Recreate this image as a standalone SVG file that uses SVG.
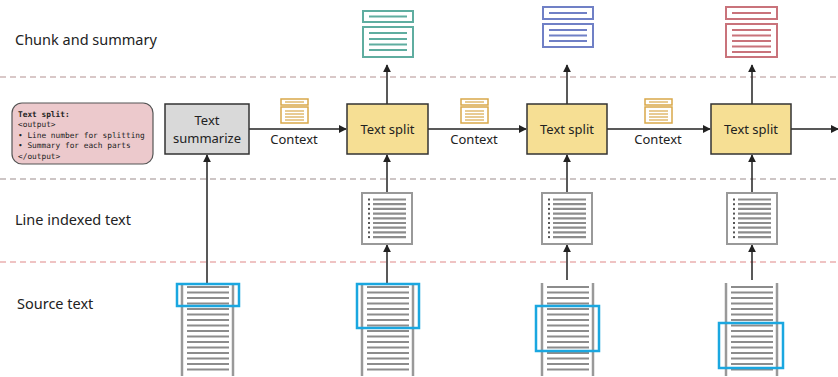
<svg xmlns="http://www.w3.org/2000/svg" width="838" height="377" viewBox="0 0 838 377">
<defs>
<marker id="ah" viewBox="0 0 10 10" refX="9" refY="5" markerWidth="8" markerHeight="8" markerUnits="userSpaceOnUse" orient="auto"><path d="M0,0 L10,5 L0,10 z" fill="#222"/></marker>
<style>
.lbl{font-family:"Noto Sans","Open Sans",sans-serif;font-size:14.5px;fill:#222}
.nt{font-family:"Noto Sans","Open Sans",sans-serif;font-size:13px;fill:#222;text-anchor:middle}
.mono{font-family:"DejaVu Sans Mono","Liberation Mono",monospace;font-size:7.8px;fill:#222}
.dash{stroke-width:1.5;stroke-dasharray:6,4;fill:none}
.conn{stroke:#222;stroke-width:1.5;fill:none;marker-end:url(#ah)}
.split{fill:#f6df94;stroke:#333;stroke-width:1.5}
.gl{stroke:#8c8c8c;stroke-width:2.2}
.rail{stroke:#999;stroke-width:2.5}
.sel{fill:none;stroke:#1aa7e0;stroke-width:2.5}
.ctx{fill:#fff;stroke:#d9a84a;stroke-width:1.5}
.ctxl{stroke:#d9a84a;stroke-width:1.2}
</style>
</defs>
<rect width="838" height="377" fill="#fff"/>
<!-- lanes -->
<g id="lanes">
<line x1="0" y1="77" x2="838" y2="77" class="dash" stroke="#cdb6b6"/>
<line x1="0" y1="179" x2="838" y2="179" class="dash" stroke="#bdb3b3"/>
<line x1="0" y1="262" x2="838" y2="262" class="dash" stroke="#eab0b0"/>
<text x="15" y="45" class="lbl">Chunk and summary</text>
<text x="15" y="225" class="lbl">Line indexed text</text>
<text x="17" y="309" class="lbl">Source text</text>
</g>
<!-- connectors -->
<g id="connectors">
<line x1="207" y1="283" x2="207" y2="155" class="conn"/>
<line x1="249" y1="129" x2="346" y2="129" class="conn"/>
<line x1="428" y1="129" x2="526" y2="129" class="conn"/>
<line x1="607" y1="129" x2="710" y2="129" class="conn"/>
<line x1="791" y1="129" x2="838" y2="129" class="conn"/>
<line x1="387" y1="104" x2="387" y2="65" class="conn"/>
<line x1="567" y1="104" x2="567" y2="65" class="conn"/>
<line x1="752" y1="104" x2="752" y2="65" class="conn"/>
<line x1="387" y1="193" x2="387" y2="155" class="conn"/>
<line x1="567" y1="193" x2="567" y2="155" class="conn"/>
<line x1="752" y1="193" x2="752" y2="155" class="conn"/>
<line x1="387" y1="283" x2="387" y2="245" class="conn"/>
<line x1="567" y1="280" x2="567" y2="245" class="conn"/>
<line x1="752" y1="280" x2="752" y2="245" class="conn"/>
<text x="294" y="144" class="nt">Context</text>
<text x="474" y="144" class="nt">Context</text>
<text x="658" y="144" class="nt">Context</text>
</g>
<!-- context icons -->
<g id="ctx-icons">
<g transform="translate(281,99)"><rect x="0" y="0" width="27" height="6" class="ctx"/><line x1="4" y1="3" x2="23" y2="3" class="ctxl"/><rect x="0" y="8" width="27" height="16" class="ctx"/><line x1="4" y1="12" x2="23" y2="12" class="ctxl"/><line x1="4" y1="15" x2="23" y2="15" class="ctxl"/><line x1="4" y1="18" x2="23" y2="18" class="ctxl"/><line x1="4" y1="21" x2="23" y2="21" class="ctxl"/></g>
<g transform="translate(461,99)"><rect x="0" y="0" width="27" height="6" class="ctx"/><line x1="4" y1="3" x2="23" y2="3" class="ctxl"/><rect x="0" y="8" width="27" height="16" class="ctx"/><line x1="4" y1="12" x2="23" y2="12" class="ctxl"/><line x1="4" y1="15" x2="23" y2="15" class="ctxl"/><line x1="4" y1="18" x2="23" y2="18" class="ctxl"/><line x1="4" y1="21" x2="23" y2="21" class="ctxl"/></g>
<g transform="translate(645,99)"><rect x="0" y="0" width="27" height="6" class="ctx"/><line x1="4" y1="3" x2="23" y2="3" class="ctxl"/><rect x="0" y="8" width="27" height="16" class="ctx"/><line x1="4" y1="12" x2="23" y2="12" class="ctxl"/><line x1="4" y1="15" x2="23" y2="15" class="ctxl"/><line x1="4" y1="18" x2="23" y2="18" class="ctxl"/><line x1="4" y1="21" x2="23" y2="21" class="ctxl"/></g>
</g>
<!-- prompt note -->
<g id="prompt">
<rect x="12" y="103" width="141" height="61" rx="10" fill="#ecc9cc" stroke="#555" stroke-width="1.2"/>
<text x="18" y="117" class="mono" font-weight="bold">Text split:</text>
<text x="18" y="127" class="mono">&lt;output&gt;</text>
<text x="18" y="137.5" class="mono">• Line number for splitting</text>
<text x="18" y="148" class="mono">• Summary for each parts</text>
<text x="18" y="158.5" class="mono">&lt;/output&gt;</text>
</g>
<!-- text summarize -->
<g id="summarize">
<rect x="165" y="104" width="84" height="50" fill="#d9d9d9" stroke="#333" stroke-width="1.5"/>
<text x="207" y="125" class="nt">Text</text>
<text x="207" y="143" class="nt">summarize</text>
</g>
<!-- text split nodes -->
<g id="split1"><rect x="347" y="104" width="81" height="50" class="split"/><text x="387.5" y="134" class="nt">Text split</text></g>
<g id="split2"><rect x="527" y="104" width="80" height="50" class="split"/><text x="567" y="134" class="nt">Text split</text></g>
<g id="split3"><rect x="711" y="104" width="80" height="50" class="split"/><text x="751" y="134" class="nt">Text split</text></g>
<!-- summaries -->
<g id="summary1" stroke="#5fada0" stroke-width="2" fill="#fff">
<rect x="363" y="11" width="50" height="11"/><line x1="369" y1="16.5" x2="407" y2="16.5"/>
<rect x="363" y="27" width="50" height="30"/>
<line x1="369" y1="33" x2="407" y2="33"/><line x1="369" y1="39" x2="407" y2="39"/><line x1="369" y1="44.5" x2="407" y2="44.5"/><line x1="369" y1="50" x2="407" y2="50"/>
</g>
<g id="summary2" stroke="#7080c6" stroke-width="2" fill="#fff">
<rect x="543" y="7" width="50" height="12"/><line x1="549" y1="13" x2="587" y2="13"/>
<rect x="543" y="24" width="50" height="23"/>
<line x1="549" y1="30" x2="587" y2="30"/><line x1="549" y1="35.5" x2="587" y2="35.5"/><line x1="549" y1="41" x2="587" y2="41"/>
</g>
<g id="summary3" stroke="#c9737b" stroke-width="2" fill="#fff">
<rect x="726" y="7" width="51" height="12"/><line x1="732" y1="13" x2="771" y2="13"/>
<rect x="726" y="24" width="51" height="33"/>
<line x1="732" y1="30" x2="771" y2="30"/><line x1="732" y1="35.5" x2="771" y2="35.5"/><line x1="732" y1="41" x2="771" y2="41"/><line x1="732" y1="46.5" x2="771" y2="46.5"/><line x1="732" y1="52" x2="771" y2="52"/>
</g>
<!-- line indexed docs -->
<g id="doc1" transform="translate(362,193)">
<rect x="0" y="0" width="50" height="51" fill="#fff" stroke="#999" stroke-width="2"/>
<g fill="#555"><rect x="6" y="5.5" width="2" height="2"/><rect x="6" y="10.2" width="2" height="2"/><rect x="6" y="14.9" width="2" height="2"/><rect x="6" y="19.6" width="2" height="2"/><rect x="6" y="24.3" width="2" height="2"/><rect x="6" y="29" width="2" height="2"/><rect x="6" y="33.7" width="2" height="2"/><rect x="6" y="38.4" width="2" height="2"/><rect x="6" y="43.1" width="2" height="2"/></g>
<g class="gl" stroke-width="1.8"><line x1="11" y1="6.5" x2="44" y2="6.5"/><line x1="11" y1="11.2" x2="44" y2="11.2"/><line x1="11" y1="15.9" x2="44" y2="15.9"/><line x1="11" y1="20.6" x2="44" y2="20.6"/><line x1="11" y1="25.3" x2="44" y2="25.3"/><line x1="11" y1="30" x2="44" y2="30"/><line x1="11" y1="34.7" x2="44" y2="34.7"/><line x1="11" y1="39.4" x2="44" y2="39.4"/><line x1="11" y1="44.1" x2="44" y2="44.1"/></g>
</g>
<g id="doc2" transform="translate(542,193)">
<rect x="0" y="0" width="50" height="51" fill="#fff" stroke="#999" stroke-width="2"/>
<g fill="#555"><rect x="6" y="5.5" width="2" height="2"/><rect x="6" y="10.2" width="2" height="2"/><rect x="6" y="14.9" width="2" height="2"/><rect x="6" y="19.6" width="2" height="2"/><rect x="6" y="24.3" width="2" height="2"/><rect x="6" y="29" width="2" height="2"/><rect x="6" y="33.7" width="2" height="2"/><rect x="6" y="38.4" width="2" height="2"/><rect x="6" y="43.1" width="2" height="2"/></g>
<g class="gl" stroke-width="1.8"><line x1="11" y1="6.5" x2="44" y2="6.5"/><line x1="11" y1="11.2" x2="44" y2="11.2"/><line x1="11" y1="15.9" x2="44" y2="15.9"/><line x1="11" y1="20.6" x2="44" y2="20.6"/><line x1="11" y1="25.3" x2="44" y2="25.3"/><line x1="11" y1="30" x2="44" y2="30"/><line x1="11" y1="34.7" x2="44" y2="34.7"/><line x1="11" y1="39.4" x2="44" y2="39.4"/><line x1="11" y1="44.1" x2="44" y2="44.1"/></g>
</g>
<g id="doc3" transform="translate(727,193)">
<rect x="0" y="0" width="50" height="51" fill="#fff" stroke="#999" stroke-width="2"/>
<g fill="#555"><rect x="6" y="5.5" width="2" height="2"/><rect x="6" y="10.2" width="2" height="2"/><rect x="6" y="14.9" width="2" height="2"/><rect x="6" y="19.6" width="2" height="2"/><rect x="6" y="24.3" width="2" height="2"/><rect x="6" y="29" width="2" height="2"/><rect x="6" y="33.7" width="2" height="2"/><rect x="6" y="38.4" width="2" height="2"/><rect x="6" y="43.1" width="2" height="2"/></g>
<g class="gl" stroke-width="1.8"><line x1="11" y1="6.5" x2="44" y2="6.5"/><line x1="11" y1="11.2" x2="44" y2="11.2"/><line x1="11" y1="15.9" x2="44" y2="15.9"/><line x1="11" y1="20.6" x2="44" y2="20.6"/><line x1="11" y1="25.3" x2="44" y2="25.3"/><line x1="11" y1="30" x2="44" y2="30"/><line x1="11" y1="34.7" x2="44" y2="34.7"/><line x1="11" y1="39.4" x2="44" y2="39.4"/><line x1="11" y1="44.1" x2="44" y2="44.1"/></g>
</g>
<!-- source texts -->
<g id="src1" transform="translate(182,0)">
<line x1="0" y1="283" x2="0" y2="376" class="rail"/><line x1="51" y1="283" x2="51" y2="376" class="rail"/>
<g class="gl"><line x1="5" y1="287" x2="47" y2="287"/><line x1="5" y1="292.5" x2="47" y2="292.5"/><line x1="5" y1="298" x2="47" y2="298"/><line x1="5" y1="303.5" x2="47" y2="303.5"/><line x1="5" y1="309" x2="47" y2="309"/><line x1="5" y1="314.5" x2="47" y2="314.5"/><line x1="5" y1="320" x2="47" y2="320"/><line x1="5" y1="325.5" x2="47" y2="325.5"/><line x1="5" y1="331" x2="47" y2="331"/><line x1="5" y1="336.5" x2="47" y2="336.5"/><line x1="5" y1="342" x2="47" y2="342"/><line x1="5" y1="347.5" x2="47" y2="347.5"/><line x1="5" y1="353" x2="47" y2="353"/><line x1="5" y1="358.5" x2="47" y2="358.5"/><line x1="5" y1="364" x2="47" y2="364"/><line x1="5" y1="369.5" x2="47" y2="369.5"/></g>
<rect x="-5" y="284" width="62" height="22" class="sel"/>
</g>
<g id="src2" transform="translate(362,0)">
<line x1="0" y1="283" x2="0" y2="376" class="rail"/><line x1="51" y1="283" x2="51" y2="376" class="rail"/>
<g class="gl"><line x1="5" y1="287" x2="47" y2="287"/><line x1="5" y1="292.5" x2="47" y2="292.5"/><line x1="5" y1="298" x2="47" y2="298"/><line x1="5" y1="303.5" x2="47" y2="303.5"/><line x1="5" y1="309" x2="47" y2="309"/><line x1="5" y1="314.5" x2="47" y2="314.5"/><line x1="5" y1="320" x2="47" y2="320"/><line x1="5" y1="325.5" x2="47" y2="325.5"/><line x1="5" y1="331" x2="47" y2="331"/><line x1="5" y1="336.5" x2="47" y2="336.5"/><line x1="5" y1="342" x2="47" y2="342"/><line x1="5" y1="347.5" x2="47" y2="347.5"/><line x1="5" y1="353" x2="47" y2="353"/><line x1="5" y1="358.5" x2="47" y2="358.5"/><line x1="5" y1="364" x2="47" y2="364"/><line x1="5" y1="369.5" x2="47" y2="369.5"/></g>
<rect x="-5" y="284" width="62" height="44" class="sel"/>
</g>
<g id="src3" transform="translate(542,0)">
<line x1="0" y1="283" x2="0" y2="376" class="rail"/><line x1="51" y1="283" x2="51" y2="376" class="rail"/>
<g class="gl" stroke="#5fada0"><line x1="5" y1="287" x2="47" y2="287"/><line x1="5" y1="292.5" x2="47" y2="292.5"/><line x1="5" y1="298" x2="47" y2="298"/><line x1="5" y1="303.5" x2="47" y2="303.5"/></g>
<g class="gl"><line x1="5" y1="309" x2="47" y2="309"/><line x1="5" y1="314.5" x2="47" y2="314.5"/><line x1="5" y1="320" x2="47" y2="320"/><line x1="5" y1="325.5" x2="47" y2="325.5"/><line x1="5" y1="331" x2="47" y2="331"/><line x1="5" y1="336.5" x2="47" y2="336.5"/><line x1="5" y1="342" x2="47" y2="342"/><line x1="5" y1="347.5" x2="47" y2="347.5"/><line x1="5" y1="353" x2="47" y2="353"/><line x1="5" y1="358.5" x2="47" y2="358.5"/><line x1="5" y1="364" x2="47" y2="364"/><line x1="5" y1="369.5" x2="47" y2="369.5"/></g>
<rect x="-6" y="306" width="63" height="45" class="sel"/>
</g>
<g id="src4" transform="translate(726,0)">
<line x1="0" y1="283" x2="0" y2="376" class="rail"/><line x1="51" y1="283" x2="51" y2="376" class="rail"/>
<g class="gl" stroke="#5fada0"><line x1="5" y1="287" x2="47" y2="287"/><line x1="5" y1="292.5" x2="47" y2="292.5"/><line x1="5" y1="298" x2="47" y2="298"/><line x1="5" y1="303.5" x2="47" y2="303.5"/></g>
<g class="gl" stroke="#7080c6"><line x1="5" y1="309" x2="47" y2="309"/><line x1="5" y1="314.5" x2="47" y2="314.5"/><line x1="5" y1="320" x2="47" y2="320"/></g>
<g class="gl"><line x1="5" y1="325.5" x2="47" y2="325.5"/><line x1="5" y1="331" x2="47" y2="331"/><line x1="5" y1="336.5" x2="47" y2="336.5"/><line x1="5" y1="342" x2="47" y2="342"/><line x1="5" y1="347.5" x2="47" y2="347.5"/><line x1="5" y1="353" x2="47" y2="353"/><line x1="5" y1="358.5" x2="47" y2="358.5"/><line x1="5" y1="364" x2="47" y2="364"/><line x1="5" y1="369.5" x2="47" y2="369.5"/></g>
<rect x="-7" y="323" width="64" height="45" class="sel"/>
</g>
</svg>
